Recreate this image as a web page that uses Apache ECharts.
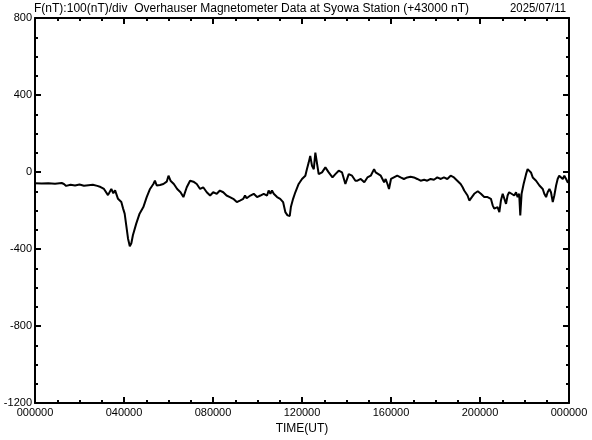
<!DOCTYPE html>
<html>
<head>
<meta charset="utf-8">
<script src="https://cdn.jsdelivr.net/npm/echarts@6/dist/echarts.min.js"></script>
<style>
html,body{margin:0;padding:0;background:#fff;}
#c{width:592px;height:440px;}
</style>
</head>
<body>
<div id="c"></div>
<script>
// ---- data (time in hours UT, value in nT relative to 43000 nT) ----
var hoursUT = [0.0,0.3,0.6,0.9,1.2,1.3,1.4,1.6,1.8,2.0,2.2,2.4,2.6,2.8,2.95,3.1,3.28,3.43,3.52,3.6,3.73,3.88,3.96,4.03,4.1,4.18,4.26,4.33,4.4,4.55,4.7,4.87,5.02,5.17,5.32,5.39,5.47,5.62,5.77,5.92,6.0,6.09,6.24,6.39,6.54,6.67,6.82,6.97,7.12,7.27,7.42,7.56,7.72,7.87,8.01,8.17,8.31,8.46,8.61,8.76,8.91,9.07,9.21,9.36,9.44,9.51,9.68,9.83,9.98,10.13,10.28,10.43,10.5,10.58,10.65,10.73,10.88,11.02,11.15,11.25,11.35,11.45,11.5,11.6,11.7,11.85,12.0,12.15,12.22,12.3,12.37,12.45,12.53,12.6,12.67,12.75,12.9,13.05,13.2,13.37,13.5,13.65,13.8,13.95,14.1,14.25,14.4,14.49,14.64,14.8,14.94,15.09,15.24,15.31,15.38,15.54,15.69,15.76,15.84,15.91,16.0,16.13,16.28,16.43,16.58,16.73,16.88,17.03,17.18,17.33,17.49,17.63,17.78,17.93,18.08,18.24,18.38,18.53,18.68,18.83,18.98,19.13,19.22,19.29,19.44,19.52,19.6,19.74,19.9,20.04,20.19,20.34,20.49,20.57,20.64,20.72,20.79,20.87,20.94,21.02,21.09,21.17,21.24,21.31,21.39,21.54,21.62,21.69,21.76,21.81,21.87,21.96,22.07,22.14,22.22,22.29,22.37,22.52,22.67,22.82,22.89,22.97,23.04,23.12,23.19,23.27,23.34,23.42,23.49,23.56,23.64,23.72,23.79,23.87,23.94,24.0];
var fValues = [-58,-60,-58,-61,-57,-62,-72,-66,-70,-65,-71,-68,-66,-72,-78,-88,-120,-88,-110,-95,-139,-156,-190,-216,-276,-345,-385,-370,-328,-268,-216,-182,-130,-88,-62,-45,-70,-67,-62,-50,-19,-45,-62,-88,-105,-130,-79,-45,-50,-62,-88,-79,-105,-122,-105,-113,-96,-105,-122,-130,-139,-156,-148,-139,-122,-136,-122,-113,-130,-122,-113,-122,-96,-113,-96,-113,-130,-139,-156,-208,-225,-228,-182,-139,-105,-62,-36,-19,15,49,84,32,15,101,109,-11,-2,24,-2,-28,-11,7,-2,-62,-11,-19,-45,-45,-36,-53,-28,-19,15,-2,-11,-19,-53,-36,-62,-88,-36,-28,-19,-28,-36,-28,-24,-28,-36,-45,-40,-45,-36,-40,-28,-36,-28,-36,-19,-28,-45,-62,-79,-96,-122,-148,-139,-113,-100,-113,-130,-130,-139,-173,-190,-199,-182,-208,-148,-113,-105,-165,-122,-105,-113,-122,-105,-130,-113,-225,-113,-62,-11,15,24,-2,-28,-45,-70,-88,-113,-130,-105,-88,-105,-156,-122,-70,-36,-19,-28,-36,-19,-36,-53,-53];
var yTicks = [800, 400, 0, -400, -800, -1200];
var xTickHours = [0, 4, 8, 12, 16, 20, 24];
var titleText = "F(nT):100(nT)/div  Overhauser Magnetometer Data at Syowa Station (+43000 nT)";
var dateText = "2025/07/11";
var xName = "TIME(UT)";

var FONT = '"Liberation Sans", Arial, sans-serif';
function fmtHour(h){ var hh = Math.round(h) % 24; return (hh < 10 ? '0' : '') + hh + '0000'; }

var seriesData = hoursUT.map(function(h, i){ return [h, fValues[i]]; });

// measure text to fit widths seen in reference
var cv = document.createElement('canvas').getContext('2d');
cv.font = '12px ' + FONT;
var titleW = cv.measureText(titleText).width;
var dateW = cv.measureText(dateText).width;
var titleScale = 435 / titleW;
var dateScale = 56 / dateW;

var chart = echarts.init(document.getElementById('c'), null, {renderer: 'canvas'});
var axisCommon = {
  type: 'value',
  axisLine: {show: true, onZero: false, lineStyle: {color: '#000', width: 2}},
  axisTick: {show: true, inside: true, length: 6, lineStyle: {color: '#000', width: 2}},
  minorTick: {show: true, splitNumber: 4, length: 3, lineStyle: {color: '#000', width: 2}},
  splitLine: {show: false},
  minorSplitLine: {show: false}
};
var option = {
  animation: false,
  backgroundColor: '#fff',
  grid: {left: 35, right: 23, top: 18, bottom: 33, containLabel: false},
  xAxis: [
    Object.assign({}, axisCommon, {
      position: 'bottom', min: 0, max: 24, interval: 4,
      name: xName, nameLocation: 'middle', nameGap: 16,
      nameTextStyle: {color: '#000', fontSize: 12, fontFamily: FONT},
      axisLabel: {show: true, color: '#000', fontSize: 11, fontFamily: FONT, margin: 4,
        formatter: function(v){ return fmtHour(v); }}
    }),
    Object.assign({}, axisCommon, {
      position: 'top', min: 0, max: 24, interval: 4,
      axisLabel: {show: false}
    })
  ],
  yAxis: [
    Object.assign({}, axisCommon, {
      position: 'left', min: -1200, max: 800, interval: 400,
      axisLabel: {show: true, color: '#000', fontSize: 11, fontFamily: FONT, margin: 3,
        formatter: function(v){ return yTicks.indexOf(v) >= 0 ? String(v) : ''; }}
    }),
    Object.assign({}, axisCommon, {
      position: 'right', min: -1200, max: 800, interval: 400,
      axisLabel: {show: false}
    })
  ],
  graphic: [
    {type: 'text', x: 34, y: 9, scaleX: titleScale, style: {text: titleText, fill: '#000',
      font: '12px ' + FONT, align: 'left', verticalAlign: 'middle'}},
    {type: 'text', x: 566, y: 9, scaleX: dateScale, style: {text: dateText, fill: '#000',
      font: '12px ' + FONT, align: 'right', verticalAlign: 'middle'}}
  ],
  series: [{
    type: 'line', xAxisIndex: 0, yAxisIndex: 0,
    data: seriesData, showSymbol: false, symbol: 'none',
    lineStyle: {color: '#000', width: 2}, silent: true
  }]
};
chart.setOption(option);
</script>
</body>
</html>
